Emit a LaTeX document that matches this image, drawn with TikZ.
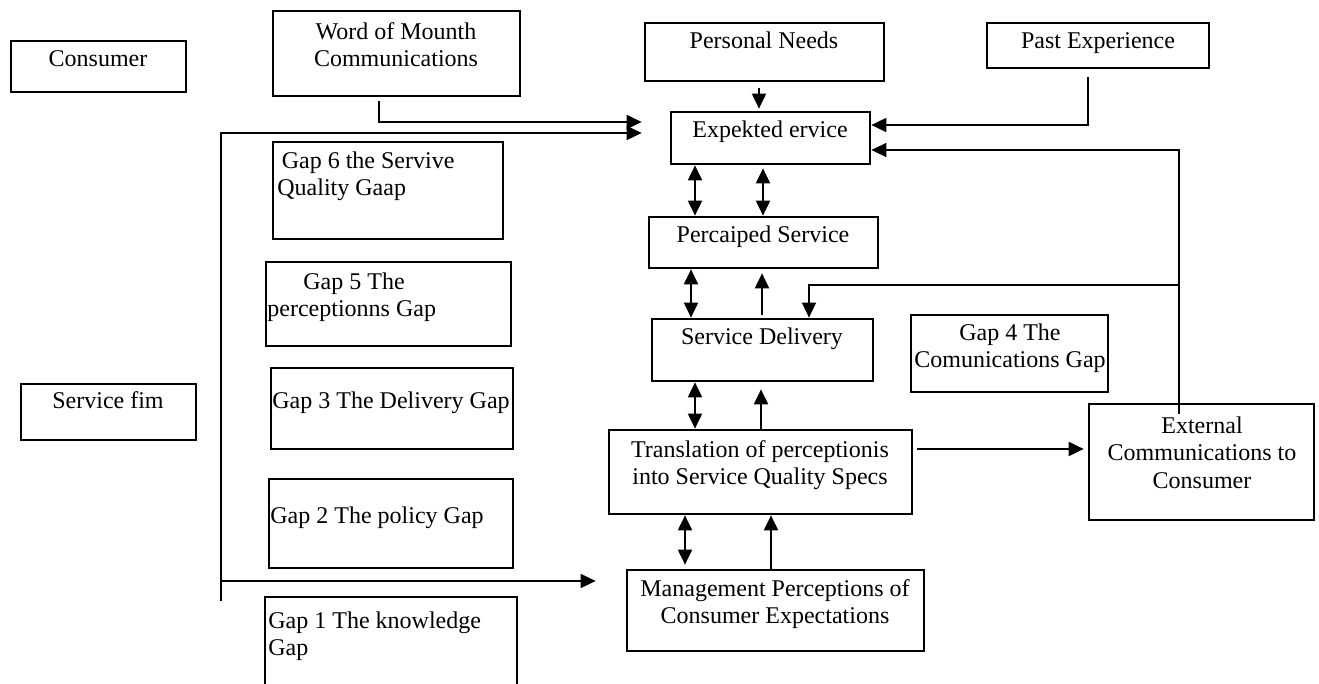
\documentclass[tikz,border=0pt]{standalone}
\usepackage{fontspec}
\setmainfont{Liberation Serif}
\usetikzlibrary{arrows.meta,fit}

\tikzset{
    box/.style={draw, line width=1.35pt, inner sep=0pt},
    txt/.style={inner sep=0pt, anchor=north, align=center, font=\fontsize{12}{13.8}\selectfont},
    ltxt/.style={txt, anchor=north west, align=left},
    arr/.style={line width=1pt, -{Triangle[length=7.5pt,width=7pt]}},
    darr/.style={line width=1pt, {Triangle[length=7.5pt,width=7pt]}-{Triangle[length=7.5pt,width=7pt]}},
}

\begin{document}
\begin{tikzpicture}[x=0.5pt, y=-0.5pt]
        \clip (0,0) rectangle (1319,684);

        \node[box, fit={(11,41) (186,92)}] (cons) {};
        \node[box, fit={(273,11) (520,96)}] (wom) {};
        \node[box, fit={(645,23) (884,81)}] (need) {};
        \node[box, fit={(987,23) (1209,68)}] (past) {};
        \node[box, fit={(671,112) (870,164)}] (exp) {};
        \node[box, fit={(649,217) (878,268)}] (perc) {};
        \node[box, fit={(652,319) (873,381)}] (sd) {};
        \node[box, fit={(609,430) (912,514)}] (trans) {};
        \node[box, fit={(627,570) (924,651)}] (mgmt) {};
        \node[box, fit={(1089,404) (1314,520)}] (ext) {};
        \node[box, fit={(911,315) (1108,392)}] (gapiv) {};
        \node[box, fit={(21,384) (196,440)}] (firm) {};
        \node[box, fit={(273,142) (503,239)}] (gapvi) {};
        \node[box, fit={(266,262) (511,346)}] (gapv) {};
        \node[box, fit={(271,368) (513,449)}] (gapiii) {};
        \node[box, fit={(269,479) (513,568)}] (gapii) {};
        \node[box, fit={(265,597) (517,700)}] (gapi) {};

        \node[txt] (consT) at (98,50) {Consumer};
        \node[txt] (womT) at (396,22) {Word of Mounth\\Communications};
        \node[txt] (needT) at (764,31) {Personal Needs};
        \node[txt] (pastT) at (1098,32) {Past Experience};
        \node[txt] (expT) at (770,120) {Expekted ervice};
        \node[txt] (percT) at (763,225) {Percaiped Service};
        \node[txt] (sdT) at (762,327) {Service Delivery};
        \node[txt] (transT) at (760,440) {Translation of perceptionis\\into Service Quality Specs};
        \node[txt] (mgmtT) at (775,579) {Management Perceptions of\\Consumer Expectations};
        \node[txt] (extT) at (1202,416) {External\\Communications to\\Consumer};
        \node[txt] (gapivT) at (1010,323) {Gap 4 The\\Comunications Gap};
        \node[txt] (firmT) at (108,391) {Service fim};
        \node[ltxt] (gapviT) at (277,151) {\hspace{2.2pt}Gap 6 the Servive\\Quality Gaap};
        \node[ltxt] (gapvT) at (267,272) {\hspace{18pt}Gap 5 The\\perceptionns Gap};
        \node[ltxt] (gapiiiT) at (272,391) {Gap 3 The Delivery Gap};
        \node[ltxt] (gapiiT) at (270,506) {Gap 2 The policy Gap};
        \node[ltxt] (gapiT) at (268,611) {Gap 1 The knowledge\\Gap};

        \coordinate (trunk) at (221,601);
        \coordinate (branch) at (221,581);
        \coordinate (tee) at (1179,285);

        \draw[arr, shorten <=2pt, shorten >=14pt] (379,0 |- wom.south) |- (exp.west |- 0,122);
        \draw[arr, line width=0.9pt, shorten >=14pt] (trunk) |- (exp.west |- 0,133);
        \draw[arr, line width=0.9pt, shorten >=15pt] (branch) -- (mgmt.west |- 0,581);
        \draw[arr, line width=0.9pt, shorten <=4pt] (1088,0 |- past.south) |- (exp.east |- 0,125);
        \draw[arr, line width=0.75pt, shorten <=-5.5pt] (1179,0 |- ext.north) |- (exp.east |- 0,150);
        \draw[arr, line width=0.75pt] (tee) -| (809,0 |- sd.north);
        \draw[arr, shorten <=3pt, shorten >=1pt] (759,0 |- need.south) -- (759,0 |- exp.north);

        \draw[darr] (695,0 |- exp.south) -- (695,0 |- perc.north);
        \draw[darr, shorten <=1.5pt] (763,0 |- exp.south) -- (763,0 |- perc.north);
        \draw[darr] (691,0 |- perc.south) -- (691,0 |- sd.north);
        \draw[arr, shorten <=1.5pt, shorten >=2pt] (762,0 |- sd.north) -- (762,0 |- perc.south);
        \draw[darr] (695,0 |- sd.south) -- (695,0 |- trans.north);
        \draw[arr, shorten >=3.5pt] (761,0 |- trans.north) -- (761,0 |- sd.south);
        \draw[darr, shorten >=2pt] (685,0 |- trans.south) -- (685,0 |- mgmt.north);
        \draw[arr] (771,0 |- mgmt.north) -- (771,0 |- trans.south);
        \draw[arr, shorten <=2pt, shorten >=2pt] (trans.east |- 0,449) -- (ext.west |- 0,449);
    \end{tikzpicture}
\end{document}
